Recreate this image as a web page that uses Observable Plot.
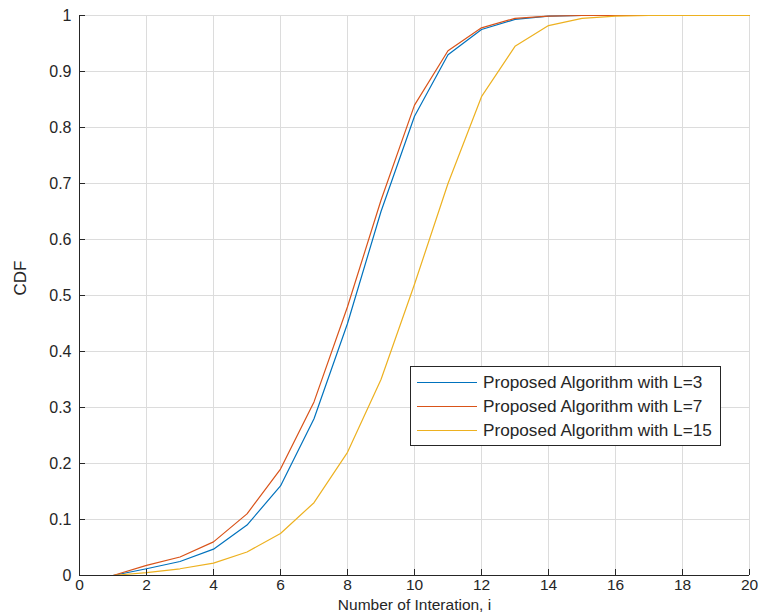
<!DOCTYPE html>
<html>
<head>
<meta charset="utf-8">
<script src="https://cdn.jsdelivr.net/npm/d3@7"></script>
<script src="https://cdn.jsdelivr.net/npm/@observablehq/plot@0.6"></script>
<style>
  html, body { margin: 0; padding: 0; background: #fff; }
  #wrap { position: relative; width: 763px; height: 615px; font-family: "Liberation Sans", Arial, sans-serif; }
  #legend { position: absolute; left: 410px; top: 366px; width: 311px; height: 80px; border: 1px solid #262626; background: #fff; box-sizing: border-box; padding-top: 3px; }
  .row { display: flex; align-items: center; height: 24.3px; font-size: 17.2px; color: #262626; white-space: nowrap; }
  .sw { width: 60px; height: 0; border-top: 1.3px solid; margin-left: 6px; margin-right: 6px; }
</style>
</head>
<body>
<div id="wrap"></div>
<script>
const iterations = [1,2,3,4,5,6,7,8,9,10,11,12,13,14,15,16,17,18,19,20];
const cdfL3  = [0,0.012,0.025,0.047,0.09,0.16,0.28,0.45,0.65,0.82,0.93,0.975,0.993,0.999,1,1,1,1,1,1];
const cdfL7  = [0,0.018,0.033,0.06,0.11,0.19,0.31,0.48,0.67,0.84,0.937,0.978,0.995,0.999,1,1,1,1,1,1];
const cdfL15 = [0,0.005,0.012,0.022,0.042,0.075,0.13,0.22,0.35,0.52,0.70,0.855,0.945,0.982,0.995,0.999,1,1,1,1];
const seriesNames = ["Proposed Algorithm with L=3","Proposed Algorithm with L=7","Proposed Algorithm with L=15"];
const seriesColors = ["#0072BD","#D95319","#EDB120"];
const xTicks = [0,2,4,6,8,10,12,14,16,18,20];
const yTicks = [0,0.1,0.2,0.3,0.4,0.5,0.6,0.7,0.8,0.9,1];

const allSeries = [cdfL3, cdfL7, cdfL15];
const data = [];
allSeries.forEach((vals, s) => vals.forEach((v, i) => data.push({x: iterations[i], y: v, series: seriesNames[s]})));

const chart = Plot.plot({
  width: 763,
  height: 615,
  marginLeft: 79,
  marginRight: 14,
  marginTop: 15,
  marginBottom: 40,
  style: {fontFamily: '"Liberation Sans", Arial, sans-serif', fontSize: "15px", color: "#262626", background: "#fff"},
  x: {domain: [0, 20]},
  y: {domain: [0, 1]},
  color: {domain: seriesNames, range: seriesColors},
  marks: [
    Plot.gridX(xTicks, {stroke: "#dcdcdc", strokeOpacity: 1}),
    Plot.gridY(yTicks, {stroke: "#dcdcdc", strokeOpacity: 1}),
    Plot.line(data, {x: "x", y: "y", stroke: "series", strokeWidth: 1.2}),
    Plot.ruleX([0], {stroke: "#262626", strokeWidth: 1}),
    Plot.ruleY([0], {stroke: "#262626", strokeWidth: 1}),
    Plot.axisX(xTicks, {tickSize: -6, tickPadding: 9, stroke: "#262626", fill: "#262626", fontSize: 15.5, label: null}),
    Plot.axisY(yTicks, {tickSize: -6, tickPadding: 14, stroke: "#262626", fill: "#262626", fontSize: 16, label: null, tickFormat: d => String(+d.toFixed(1))}),
    Plot.text(["Number of Interation, i"], {frameAnchor: "bottom", dy: 34, fontSize: 15.5, fill: "#262626"}),
    Plot.text(["CDF"], {frameAnchor: "left", dx: -59, rotate: -90, fontSize: 17, fill: "#262626"})
  ]
});
document.getElementById("wrap").appendChild(chart);

const legend = document.createElement("div");
legend.id = "legend";
seriesNames.forEach((n, i) => {
  const row = document.createElement("div");
  row.className = "row";
  const sw = document.createElement("span");
  sw.className = "sw";
  sw.style.borderTopColor = seriesColors[i];
  const t = document.createElement("span");
  t.textContent = n;
  row.appendChild(sw); row.appendChild(t);
  legend.appendChild(row);
});
document.getElementById("wrap").appendChild(legend);
</script>
</body>
</html>
